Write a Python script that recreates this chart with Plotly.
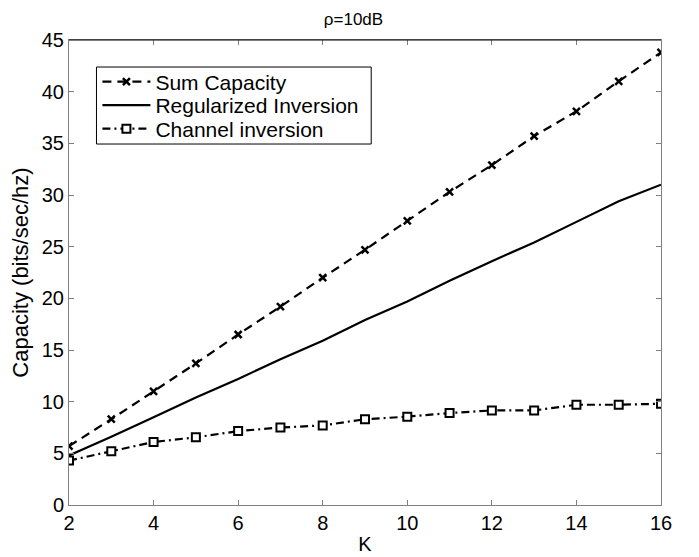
import plotly.graph_objects as go

K = [2, 3, 4, 5, 6, 7, 8, 9, 10, 11, 12, 13, 14, 15, 16]
sum_capacity = [5.7, 8.3, 11.0, 13.7, 16.5, 19.2, 22.0, 24.7, 27.5, 30.3, 32.9, 35.7, 38.1, 41.0, 43.8]
regularized = [4.8, 6.6, 8.5, 10.4, 12.2, 14.1, 15.9, 17.9, 19.7, 21.7, 23.6, 25.4, 27.4, 29.4, 31.0]
channel_inv = [4.3, 5.2, 6.1, 6.55, 7.15, 7.5, 7.7, 8.3, 8.55, 8.9, 9.15, 9.15, 9.7, 9.7, 9.8]

x_ticks = [2, 4, 6, 8, 10, 12, 14, 16]
y_ticks = [0, 5, 10, 15, 20, 25, 30, 35, 40, 45]

FONT = "Liberation Sans, Arial, Helvetica, sans-serif"

fig = go.Figure()
fig.add_trace(go.Scatter(
    x=K, y=sum_capacity, name="Sum Capacity", mode="lines+markers", legend="legend",
    line=dict(color="black", width=2.2, dash="9px,6px"),
    marker=dict(symbol="x-thin", size=7, color="black", line=dict(color="black", width=2.5)),
))
fig.add_trace(go.Scatter(
    x=K, y=regularized, name="Regularized Inversion", mode="lines", legend="legend2",
    line=dict(color="black", width=2.2),
))
fig.add_trace(go.Scatter(
    x=K, y=channel_inv, name="Channel inversion", mode="lines+markers", legend="legend3",
    line=dict(color="black", width=2.2, dash="8px,4px,2px,4px"),
    marker=dict(symbol="square", size=8, color="white", line=dict(color="black", width=2)),
))

axis_common = dict(
    automargin=False,
    showline=True, linecolor="#808080", linewidth=1, mirror="ticks",
    ticks="inside", ticklen=5, tickcolor="#808080", tickwidth=1,
    showgrid=False, zeroline=False,
    tickfont=dict(family=FONT, size=20, color="black"),
)

legend_common = dict(x=0.048, xanchor="left", yanchor="middle",
                     bgcolor="rgba(0,0,0,0)", borderwidth=0,
                     font=dict(family=FONT, size=21, color="black"),
                     tracegroupgap=0, itemwidth=48)

# The page body has an 8px margin, so the figure is sized to end at the window edge.
fig.update_layout(
    template="none",
    width=691, height=549,
    margin=dict(l=60.5, r=38, t=32, b=52),
    paper_bgcolor="white", plot_bgcolor="white",
    font=dict(family=FONT, color="black"),
    title=dict(text="ρ=10dB", x=0.5, xanchor="center", y=1 - 10.7 / 549, yanchor="middle",
               font=dict(family=FONT, size=17, color="black")),
    xaxis=dict(range=[2, 16], tickvals=x_ticks, title=dict(text="K", standoff=3,
               font=dict(family=FONT, size=20, color="black")), **axis_common),
    yaxis=dict(range=[0, 45], tickvals=y_ticks, title=dict(text="Capacity (bits/sec/hz)", standoff=8,
               font=dict(family=FONT, size=22, color="black")), **axis_common),
    legend=dict(y=0.9097, **legend_common),
    legend2=dict(y=0.8591, **legend_common),
    legend3=dict(y=0.8086, **legend_common),
    showlegend=True,
)

# legend frame around the three legend rows
fig.add_shape(type="rect", xref="paper", yref="paper", x0=0.0464, x1=0.5105, y0=0.7763, y1=0.9419,
              line=dict(color="black", width=1), fillcolor="white", layer="below")
# darker top frame line as in the reference
fig.add_shape(type="line", xref="paper", yref="paper", x0=0, x1=1, y0=1, y1=1,
              line=dict(color="black", width=1))

fig.write_html("out.html")
